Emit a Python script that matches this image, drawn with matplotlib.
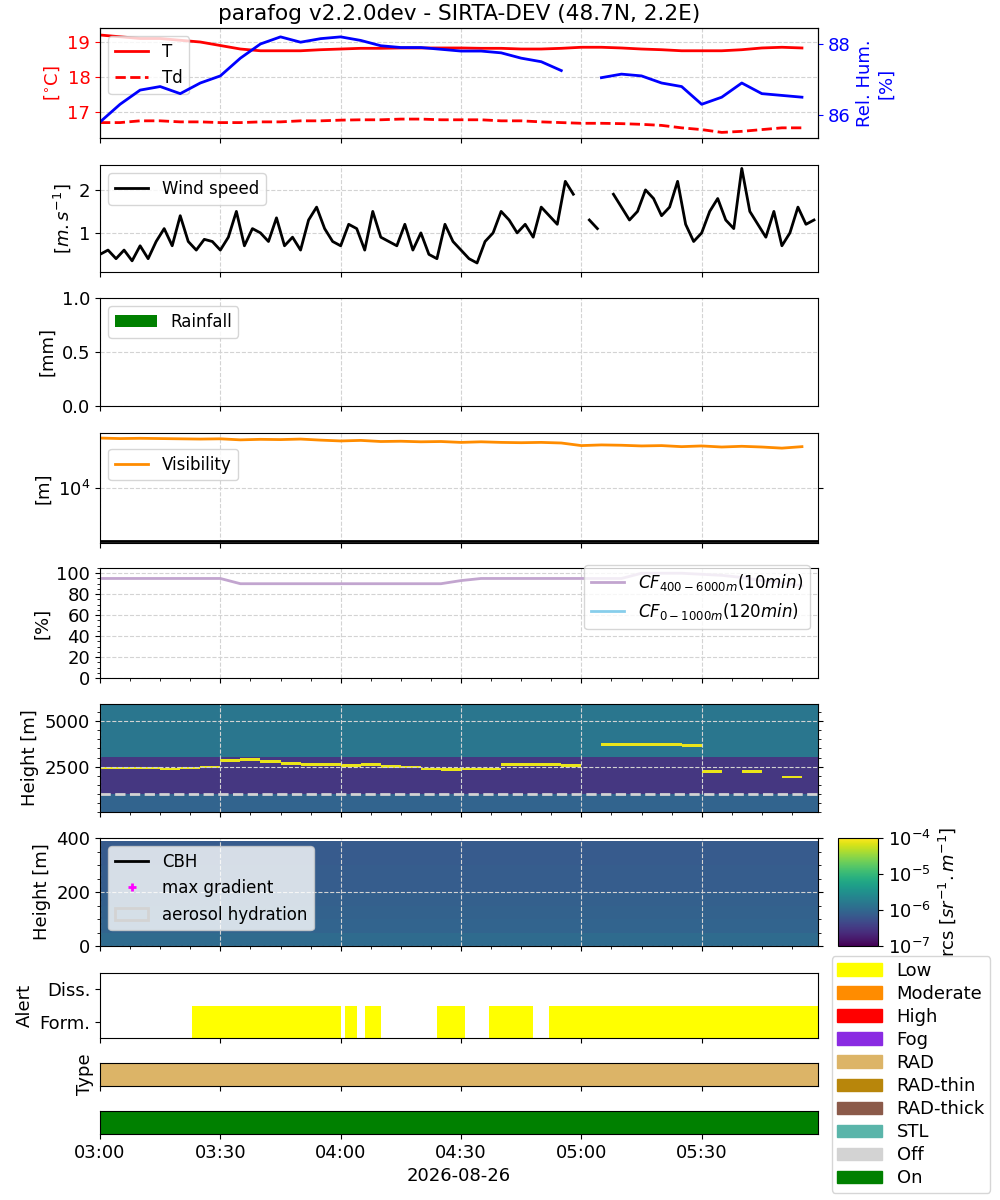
import matplotlib
matplotlib.use('Agg')
import matplotlib.pyplot as plt
import matplotlib.dates as mdates
from matplotlib.colors import LogNorm
from matplotlib.patches import Patch
import numpy as np
import pandas as pd

# 5-min resolution meteo
t5 = pd.date_range('2026-08-26 03:00', periods=36, freq='5min')
temp = [19.2, 19.15, 19.1, 19.1, 19.05, 19.0, 18.9, 18.8, 18.75, 18.75, 18.75, 18.78,
        18.8, 18.82, 18.82, 18.83, 18.83, 18.83, 18.83, 18.82, 18.82, 18.8, 18.8, 18.82,
        18.85, 18.85, 18.83, 18.8, 18.78, 18.75, 18.75, 18.75, 18.78, 18.83, 18.85, 18.83]
dewp = [16.7, 16.7, 16.75, 16.75, 16.72, 16.72, 16.7, 16.7, 16.72, 16.72, 16.75, 16.75,
        16.77, 16.78, 16.78, 16.8, 16.8, 16.78, 16.78, 16.78, 16.75, 16.75, 16.72, 16.7,
        16.68, 16.68, 16.67, 16.65, 16.62, 16.55, 16.5, 16.42, 16.45, 16.5, 16.55, 16.55]
rhum = [85.8, 86.3, 86.7, 86.8, 86.6, 86.9, 87.1, 87.6, 88.0, 88.2, 88.05, 88.15,
        88.2, 88.1, 87.95, 87.9, 87.9, 87.85, 87.8, 87.8, 87.75, 87.6, 87.5, 87.25,
        np.nan, 87.05, 87.15, 87.1, 86.9, 86.8, 86.3, 86.5, 86.9, 86.6, 86.55, 86.5]
visib = [9.2, 9.0, 9.1, 9.0, 8.9, 8.8, 8.9, 8.5, 8.7, 8.6, 8.8, 8.4,
         8.1, 8.3, 7.9, 8.0, 7.8, 7.9, 7.6, 7.8, 7.6, 7.5, 7.6, 7.4,
         6.6, 6.8, 6.7, 6.5, 6.6, 6.3, 6.5, 6.2, 6.4, 6.2, 5.9, 6.3]
cf_high = [95, 95, 95, 95, 95, 95, 95, 90, 90, 90, 90, 90,
           90, 90, 90, 90, 90, 90, 93, 95, 95, 95, 95, 95,
           95, 95, 95, 100, 100, 100, 99, 98, 96, 93, 91, 88]

# 2-min resolution wind
t2 = pd.date_range('2026-08-26 03:00', periods=90, freq='2min')
wind = [0.5, 0.6, 0.4, 0.6, 0.35, 0.7, 0.4, 0.8, 1.1, 0.7,
        1.4, 0.8, 0.6, 0.85, 0.8, 0.6, 0.9, 1.5, 0.7, 1.1,
        1.0, 0.8, 1.35, 0.7, 0.9, 0.6, 1.3, 1.6, 1.1, 0.8,
        0.7, 1.2, 1.1, 0.6, 1.5, 0.9, 0.8, 0.7, 1.2, 0.6,
        1.0, 0.5, 0.4, 1.2, 0.8, 0.6, 0.4, 0.3, 0.8, 1.0,
        1.5, 1.3, 1.0, 1.2, 0.9, 1.6, 1.4, 1.2, 2.2, 1.9,
        np.nan, 1.3, 1.1, np.nan, 1.9, 1.6, 1.3, 1.5, 2.0, 1.8,
        1.4, 1.6, 2.2, 1.2, 0.8, 1.0, 1.5, 1.8, 1.3, 1.1,
        2.5, 1.5, 1.2, 0.9, 1.5, 0.7, 1.0, 1.6, 1.2, 1.3]

# cloud layer heights seen by the ceilometer (m), 5-min
layer = [2400, 2400, 2400, 2350, 2400, 2450, 2800, 2850, 2750, 2650, 2600, 2600,
         2550, 2600, 2500, 2450, 2350, 2300, 2350, 2350, 2600, 2600, 2600, 2550,
         np.nan, 3700, 3700, 3700, 3700, 3650, 2200, np.nan, 2200, np.nan, 1900, np.nan]
layer_top = 5950
low_rcs = [1.1e-6, 9e-7, 8.5e-7, 8e-7, 7.5e-7, 7.5e-7, 7e-7, 7e-7, 7e-7]  # 0..400 m every 50 m

# alert segments, minutes after 03:00
alert_start = [23, 61, 66, 84, 97, 112]
alert_end = [60, 64, 70, 91, 108, 179]

legend_names = ['Low', 'Moderate', 'High', 'Fog', 'RAD', 'RAD-thin', 'RAD-thick', 'STL', 'Off', 'On']
legend_colors = ['yellow', 'darkorange', 'red', 'blueviolet', '#dcb467', '#b8860b', '#8b5a4a', '#5ab5aa', 'lightgray', 'green']


def main():
    plt.rcParams['font.size'] = 13
    plt.rcParams['legend.fontsize'] = 12
    t0 = pd.Timestamp('2026-08-26 03:00')
    t1 = t0 + pd.Timedelta(minutes=179)

    fig = plt.figure(figsize=(10, 12), dpi=100)
    W = 1200.0

    def ax_at(top, bottom):
        return fig.add_axes([0.1, 1 - bottom / W, 0.718, (bottom - top) / W])

    # Temperature / humidity
    ax1 = ax_at(28, 138)
    ax1.plot(t5, temp, color='red', lw=2, label='T')
    ax1.plot(t5, dewp, color='red', lw=2, ls='--', label='Td')
    ax1.set_ylim(16.26, 19.4)
    ax1.set_ylabel('[$^{\\circ}$C]', color='red')
    ax1.tick_params(axis='y', colors='red')
    ax1.legend(loc='upper left')
    ax1.grid(True, ls='--', color='lightgray')
    ax1.set_title('parafog v2.2.0dev - SIRTA-DEV (48.7N, 2.2E)')
    ax1b = ax1.twinx()
    ax1b.plot(t5, rhum, color='blue', lw=2)
    ax1b.set_ylim(85.35, 88.45)
    ax1b.set_ylabel('Rel. Hum.\n[%]', color='blue')
    ax1b.tick_params(axis='y', colors='blue')

    # Wind
    ax2 = ax_at(165, 272)
    ax2.plot(t2, wind, color='black', lw=2, label='Wind speed')
    ax2.set_ylim(0.09, 2.58)
    ax2.set_ylabel('[$m.s^{-1}$]')
    ax2.legend(loc='upper left')

    # Rain
    ax3 = ax_at(298, 406)
    ax3.bar(t5, np.zeros(36), width=0.003, color='green', label='Rainfall')
    ax3.set_ylim(0, 1)
    ax3.set_ylabel('[mm]')
    ax3.legend(loc='upper left', handlelength=2.5)

    # Visibility
    ax4 = ax_at(433, 543)
    ax4.plot(t5, np.array(visib) * 1e4, color='darkorange', lw=2, label='Visibility')
    ax4.axhline(1000, color='black', lw=2)
    ax4.set_yscale('log')
    ax4.set_ylim(900, 1.15e5)
    ax4.set_yticks([1e4])
    ax4.minorticks_off()
    ax4.tick_params(axis='y', right=True)
    ax4.set_ylabel('[m]')
    ax4.legend(loc='upper left', bbox_to_anchor=(0, 0.93))

    # Cloud fraction
    ax5 = ax_at(568, 678)
    ax5.plot(t5, cf_high, color='#c2a5cf', lw=2, label='$CF_{400-6000m}(10min)$')
    ax5.plot(t5, np.full(36, np.nan), color='skyblue', lw=2, label='$CF_{0-1000m}(120min)$')
    ax5.set_ylim(0, 105)
    ax5.set_yticks([0, 20, 40, 60, 80, 100])
    ax5.minorticks_on()
    ax5.set_ylabel('[%]')
    ax5.legend(loc='lower right', bbox_to_anchor=(1, 0.37))

    # Ceilometer, full range
    ax6 = ax_at(704, 812)
    hh = np.arange(0, 6000, 50)
    tt = pd.date_range(t0, periods=37, freq='5min')
    field = np.zeros((len(hh), 36))
    for j, h0 in enumerate(layer):
        prof = np.where(hh < 1000, 9e-7, 3e-7)
        prof = np.where(hh > 3000, 1.5e-6, prof)
        if not np.isnan(h0):
            prof = np.where(np.abs(hh - h0) < 80, 8e-5, prof)
        field[:, j] = prof
    norm = LogNorm(1e-7, 1e-4)
    ax6.pcolormesh(tt, np.append(hh, 6000), field, cmap='viridis', norm=norm)
    ax6.axhline(1000, color='lightgray', ls='--', lw=2)
    ax6.set_ylim(0, layer_top)
    ax6.set_yticks([2500, 5000])
    ax6.minorticks_on()
    ax6.tick_params(axis='y', which='both', right=True)
    ax6.set_ylabel('Height [m]')

    # Ceilometer, near ground
    ax7 = ax_at(838, 946)
    hl = np.arange(0, 450, 50)
    low = np.tile(np.array(low_rcs)[:-1, None], (1, 36))
    im = ax7.pcolormesh(tt, hl[:-1].tolist() + [390], low, cmap='viridis', norm=norm)
    ax7.plot([], [], color='black', lw=2, label='CBH')
    ax7.plot([], [], '+', color='magenta', mew=2, label='max gradient')
    ax7.fill_between([], [], [], facecolor='none', edgecolor='lightgray', lw=2, label='aerosol hydration')
    ax7.set_ylim(0, 400)
    ax7.minorticks_on()
    ax7.tick_params(axis='y', which='both', right=True)
    ax7.set_ylabel('Height [m]')
    ax7.legend(loc='upper left')
    cax = fig.add_axes([0.838, 1 - 946 / W, 0.04, 108 / W])
    cb = fig.colorbar(im, cax=cax, ticks=[1e-7, 1e-6, 1e-5, 1e-4])
    cb.set_label('rcs [$sr^{-1}.m^{-1}$]')

    # Alert
    ax8 = ax_at(973, 1038)
    for s, e in zip(alert_start, alert_end):
        ax8.bar(t0 + pd.Timedelta(minutes=s), 1, bottom=-0.5, width=(e - s) / 1440, align='edge', color='yellow')
    ax8.set_ylim(-0.5, 1.5)
    ax8.set_yticks([0, 1])
    ax8.set_yticklabels(['Form.', 'Diss.'])
    ax8.set_ylabel('Alert')

    # Type
    ax9 = ax_at(1063, 1086)
    ax9.bar(t0, 1, width=179 / 1440, align='edge', color=legend_colors[4])
    ax9.set_ylim(0, 1)
    ax9.set_yticks([])
    ax9.set_ylabel('Type')

    # On/off
    ax10 = ax_at(1111, 1134)
    ax10.bar(t0, 1, width=179 / 1440, align='edge', color='green')
    ax10.set_ylim(0, 1)
    ax10.set_yticks([])
    ax10.set_xlabel('2026-08-26')

    axes = [ax1, ax2, ax3, ax4, ax5, ax6, ax7, ax8, ax9, ax10]
    for ax in axes:
        ax.set_xlim(t0, t1)
        ax.xaxis.set_major_locator(mdates.MinuteLocator(byminute=[0, 30]))
        ax.xaxis.set_major_formatter(mdates.DateFormatter('%H:%M'))
        if ax is not ax10:
            ax.tick_params(axis='x', labelbottom=False)
        if ax not in (ax8, ax9, ax10):
            ax.grid(True, ls='--', color='lightgray')

    handles = [Patch(color=c, label=n) for n, c in zip(legend_names, legend_colors)]
    fig.legend(handles=handles, loc='lower left', bbox_to_anchor=(0.828, 0.003), fontsize=13,
               handlelength=2.5, labelspacing=0.28, borderaxespad=0.2, borderpad=0.3)

    fig.savefig('out.png', dpi=100)


if __name__ == '__main__':
    main()
